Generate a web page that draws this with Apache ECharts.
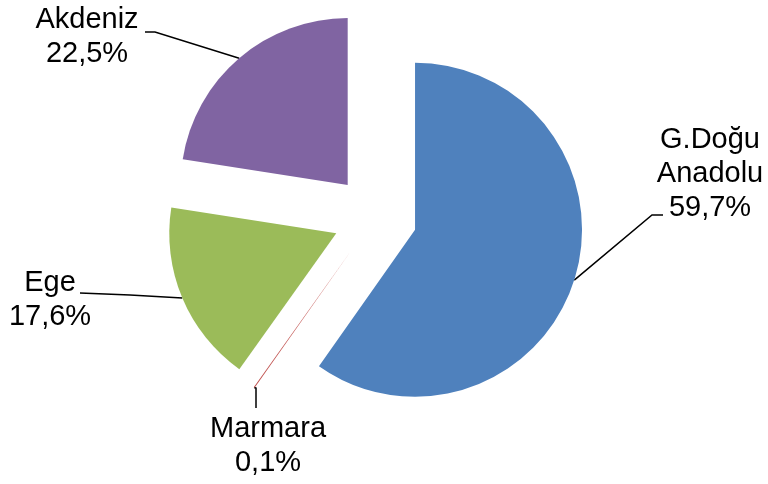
<!DOCTYPE html>
<html>
<head>
<meta charset="utf-8">
<script src="https://cdn.jsdelivr.net/npm/echarts@6/dist/echarts.min.js"></script>
<style>
  html, body { margin: 0; padding: 0; background: #fff; }
  #chart { width: 768px; height: 484px; }
</style>
</head>
<body>
<div id="chart"></div>
<script>
// regions and their shares (%)
var regions = ['G.Doğu\nAnadolu', 'Marmara', 'Ege', 'Akdeniz'];
var shares = [59.7, 0.1, 17.6, 22.5];
var colors = ['#4F81BD', '#C0504D', '#9BBB59', '#8064A2'];

// layout
var baseCenter = [375, 217];
var radius = 167;
var explode = 42;
// label block centres and leader line ends (bend point, end point)
var labelPos = [[710, 174], [268, 446], [50, 300], [87, 37]];
var leaderEnds = [
  [[652, 215], [663, 215]],
  [[256, 388], [256, 408]],
  [[130, 295], [80, 293]],
  [[155, 32], [145, 32]]
];

var total = shares.reduce(function (a, b) { return a + b; }, 0);

// mid angle of slice i, clockwise from 12 o'clock
function midAngle(i) {
  var before = 0;
  for (var k = 0; k < i; k++) before += shares[k];
  return (before + shares[i] / 2) / total * 2 * Math.PI;
}

// each slice gets its own pie, pushed out along its mid angle (exploded pie)
var series = shares.map(function (s, k) {
  var t = midAngle(k);
  var c = [baseCenter[0] + explode * Math.sin(t), baseCenter[1] - explode * Math.cos(t)];
  var arc = [c[0] + radius * Math.sin(t), c[1] - radius * Math.cos(t)];
  return {
    type: 'pie',
    silent: true,
    center: c,
    radius: radius,
    startAngle: 90,
    clockwise: true,
    avoidLabelOverlap: false,
    emphasis: { disabled: true },
    label: {
      position: 'outside',
      color: '#000',
      fontFamily: 'Liberation Sans, Arial, sans-serif',
      fontSize: 29,
      lineHeight: 34,
      align: 'center',
      formatter: function (p) {
        return regions[p.dataIndex] + '\n' + p.value.toFixed(1).replace('.', ',') + '%';
      }
    },
    labelLine: {
      lineStyle: { color: '#000', width: 1.5 }
    },
    labelLayout: function (params) {
      return {
        x: labelPos[k][0],
        y: labelPos[k][1],
        align: 'center',
        verticalAlign: 'middle',
        labelLinePoints: [arc, leaderEnds[k][0], leaderEnds[k][1]]
      };
    },
    data: shares.map(function (v, i) {
      var on = i === k;
      return {
        name: regions[i],
        value: v,
        itemStyle: { color: on ? colors[i] : 'rgba(0,0,0,0)', borderWidth: 0 },
        label: { show: on },
        labelLine: { show: on }
      };
    })
  };
});

var chart = echarts.init(document.getElementById('chart'));
chart.setOption({
  backgroundColor: '#fff',
  animation: false,
  series: series
});
</script>
</body>
</html>
